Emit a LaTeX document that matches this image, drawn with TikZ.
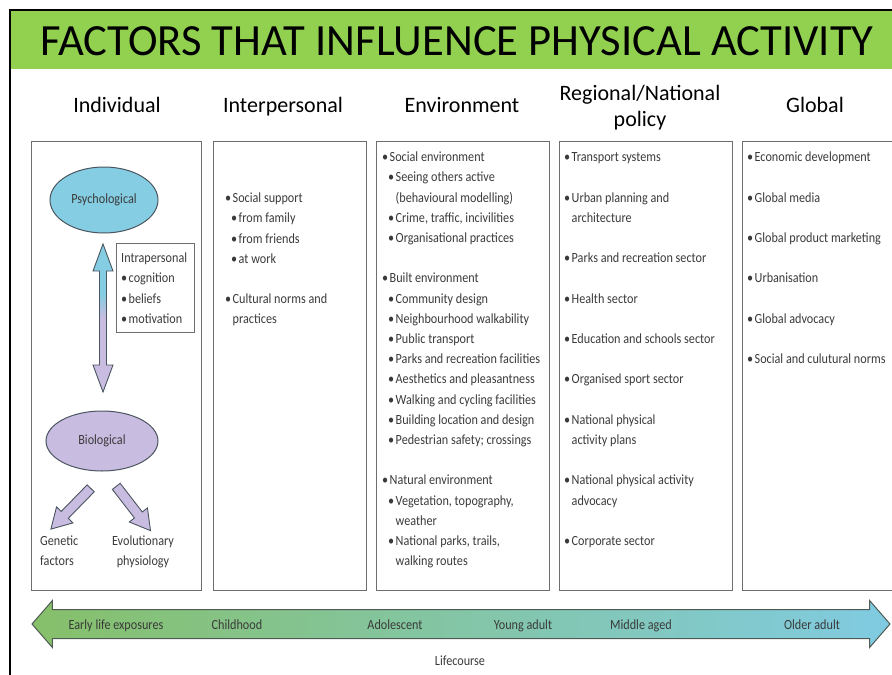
\documentclass[tikz,border=0pt]{standalone}
\usepackage{fontspec}
\setmainfont{Carlito}
\newfontfamily\cond[FakeStretch=0.87]{Carlito}
\usetikzlibrary{shapes.geometric,shapes.arrows}
\definecolor{titlegreen}{HTML}{92D050}
\definecolor{boxgray}{HTML}{6E6E6E}
\definecolor{txtgray}{HTML}{3A3A3A}
\definecolor{psyblue}{HTML}{85CDE2}
\definecolor{biolav}{HTML}{C8BCE0}
\definecolor{edgedark}{HTML}{4A5560}
\definecolor{lifegreen}{HTML}{86C06A}
\definecolor{lifeblue}{HTML}{80CBE2}
\definecolor{lifeedge}{HTML}{4F5A55}
\pgfdeclareverticalshading{psybio}{100bp}{color(0bp)=(biolav); color(50bp)=(biolav); color(58bp)=(psyblue); color(100bp)=(psyblue)}
\newcommand\bul{\makebox[7.5pt][l]{•}}
\newcommand\subb{\hspace*{6pt}\bul}
\newcommand\cont{\hspace*{13.5pt}}
\newcommand\ind{\hspace*{7.5pt}}
\tikzset{
  colbox/.style={draw=boxgray, line width=1.1pt, anchor=north west, inner sep=0pt},
  hdr/.style={font=\fontsize{22}{26}\selectfont, text=black, anchor=base, inner sep=0pt},
  body/.style={font=\cond\fontsize{14}{20.2}\selectfont, text=txtgray, anchor=north west, inner sep=0pt},
  lbl/.style={font=\cond\fontsize{14}{20}\selectfont, text=txtgray, anchor=base, inner sep=0pt},
  oval/.style={ellipse, draw=edgedark, line width=1pt, inner sep=0pt, font=\cond\fontsize{14}{16}\selectfont, text=txtgray},
  blockarrow/.style={single arrow, draw=edgedark, line width=0.9pt, fill=biolav, inner xsep=0pt, inner ysep=4.5pt,
    single arrow head extend=6.5pt, single arrow tip angle=60},
}
\begin{document}
\begin{tikzpicture}[x=1pt,y=-1pt]
\useasboundingbox (0,0) rectangle (892,675);
% title bar and frame
\fill[titlegreen] (11,11) rectangle (892,69);
\draw[line width=2.2pt] (10,675) -- (10,10) -- (892,10);
\node[font=\fontsize{44.6}{50}\selectfont, anchor=base, inner sep=0pt] (title) at (457,55) {FACTORS THAT INFLUENCE PHYSICAL ACTIVITY};
% headers
\node[hdr] (hInd) at (117,112) {Individual};
\node[hdr] (hInt) at (283,112) {Interpersonal};
\node[hdr] (hEnv) at (462,112) {Environment};
\node[hdr] (hReg1) at (640,100) {Regional/National};
\node[hdr] (hReg2) at (640,126) {policy};
\node[hdr] (hGlo) at (815,112) {Global};
% column boxes
\node[colbox, minimum width=170pt, minimum height=449pt] (bInd) at (31,141) {};
\node[colbox, minimum width=153pt, minimum height=449pt] (bInt) at (213,141) {};
\node[colbox, minimum width=173pt, minimum height=449pt] (bEnv) at (376,141) {};
\node[colbox, minimum width=173pt, minimum height=449pt] (bReg) at (559,141) {};
\node[colbox, minimum width=170pt, minimum height=449pt] (bGlo) at (742,141) {};
% individual column
\node[oval, fill=psyblue, minimum width=108pt, minimum height=66pt] (psy) at (104,200) {Psychological};
\node[oval, fill=biolav, minimum width=112pt, minimum height=60pt] (bio) at (102,441) {Biological};
\coordinate (dT) at (103,244);
\coordinate (dB) at (103,392);
\path[draw=edgedark, line width=0.9pt, shading=psybio]
  (dT) -- ++(10,27) -- ++(-6.5,0) -- ++(0,94) -- ++(6.5,0) -- (dB)
  -- ++(-10,-27) -- ++(6.5,0) -- ++(0,-94) -- ++(-6.5,0) -- cycle;
\node[colbox, line width=0.9pt, minimum width=78pt, minimum height=89pt] (intraBox) at (116,243) {};
\node[body] (intra) at (121,248.4) {\begin{tabular}{@{}l@{}}Intrapersonal\\\bul cognition\\\bul beliefs\\\bul motivation\end{tabular}};
\node[blockarrow, rotate=225.7, anchor=tail, minimum height=57pt] (gArr) at (91,488) {};
\node[blockarrow, rotate=-52.3, anchor=tail, minimum height=56pt] (eArr) at (116,486) {};
\node[body] (gen) at (40,531.4) {\begin{tabular}{@{}l@{}}Genetic\\factors\end{tabular}};
\node[body, anchor=north] (evo) at (143,531.4) {\begin{tabular}{@{}c@{}}Evolutionary\\physiology\end{tabular}};
% interpersonal
\node[body] (tInt) at (225,188.4) {\begin{tabular}{@{}l@{}}
\bul Social support\\
\subb from family\\
\subb from friends\\
\subb at work\\
\\
\bul Cultural norms and\\
\ind practices
\end{tabular}};
% environment
\node[body] (tEnv) at (382,147.4) {\begin{tabular}{@{}l@{}}
\bul Social environment\\
\subb Seeing others active\\
\cont(behavioural modelling)\\
\subb Crime, traffic, incivilities\\
\subb Organisational practices\\
\\
\bul Built environment\\
\subb Community design\\
\subb Neighbourhood walkability\\
\subb Public transport\\
\subb Parks and recreation facilities\\
\subb Aesthetics and pleasantness\\
\subb Walking and cycling facilities\\
\subb Building location and design\\
\subb Pedestrian safety; crossings\\
\\
\bul Natural environment\\
\subb Vegetation, topography,\\
\cont weather\\
\subb National parks, trails,\\
\cont walking routes
\end{tabular}};
% regional / national
\node[body] (tReg) at (564,147.4) {\begin{tabular}{@{}l@{}}
\bul Transport systems\\
\\
\bul Urban planning and\\
\ind architecture\\
\\
\bul Parks and recreation sector\\
\\
\bul Health sector\\
\\
\bul Education and schools sector\\
\\
\bul Organised sport sector\\
\\
\bul National physical\\
\ind activity plans\\
\\
\bul National physical activity\\
\ind advocacy\\
\\
\bul Corporate sector
\end{tabular}};
% global
\node[body] (tGlo) at (747,147.4) {\begin{tabular}{@{}l@{}}
\bul Economic development\\
\\
\bul Global media\\
\\
\bul Global product marketing\\
\\
\bul Urbanisation\\
\\
\bul Global advocacy\\
\\
\bul Social and culutural norms
\end{tabular}};
% lifecourse
\node[double arrow, draw=lifeedge, line width=1pt, left color=lifegreen, right color=lifeblue,
  minimum height=858pt, inner xsep=0pt, inner ysep=14pt, double arrow head extend=9pt, double arrow tip angle=98] (life) at (461,624) {};
\node[lbl] (l1) at (116,629.5) {Early life exposures};
\node[lbl] (l2) at (237,629.5) {Childhood};
\node[lbl] (l3) at (395,629.5) {Adolescent};
\node[lbl] (l4) at (523,629.5) {Young adult};
\node[lbl] (l5) at (641,629.5) {Middle aged};
\node[lbl] (l6) at (812,629.5) {Older adult};
\node[lbl] (lc) at (460,665) {Lifecourse};
\end{tikzpicture}
\end{document}
